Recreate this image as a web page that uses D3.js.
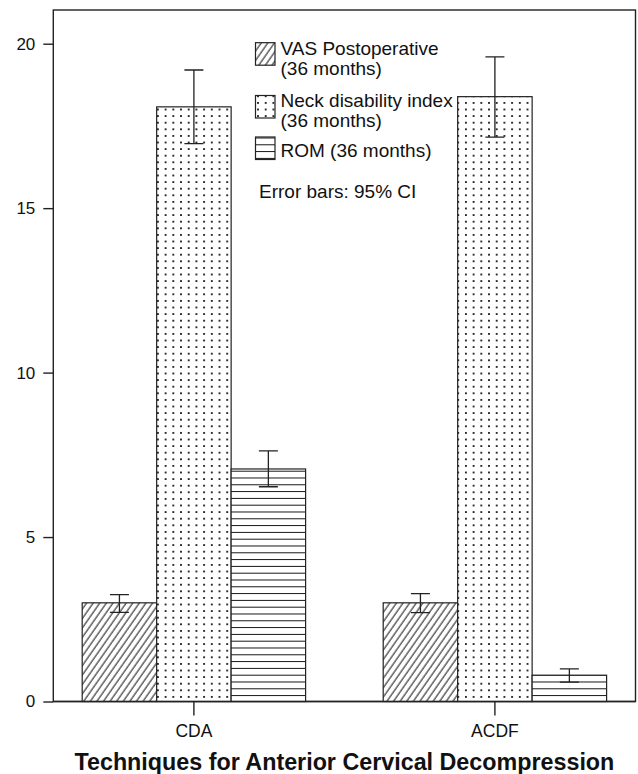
<!DOCTYPE html>
<head>
    <meta charset="UTF-8" />
    <style>
        body {
            margin: 0;
            padding: 0;
            background: #fff;
            font-family: "Liberation Sans", Arial, sans-serif;
        }

        .bar {
            stroke: #222;
            stroke-width: 1.2px;
        }

        .err {
            stroke: #222;
            stroke-width: 1.3px;
            fill: none;
        }
    </style>
    <title>Techniques</title>
</head>

<svg width="638" height="774"></svg>
<script src="https://d3js.org/d3.v7.min.js"></script>

<script>
    // values (95% CI)
    const groups = ["CDA", "ACDF"]
    const series = ["vas", "ndi", "rom"]
    const seriesLabels = [
        ["VAS Postoperative", "(36 months)"],
        ["Neck disability index", "(36 months)"],
        ["ROM (36 months)"]
    ]
    const vasMean = [3.0, 3.0]
    const vasLow = [2.71, 2.70]
    const vasHigh = [3.25, 3.28]
    const ndiMean = [18.08, 18.39]
    const ndiLow = [16.96, 17.16]
    const ndiHigh = [19.20, 19.60]
    const romMean = [7.07, 0.80]
    const romLow = [6.53, 0.59]
    const romHigh = [7.62, 0.99]
    const yTicks = [0, 5, 10, 15, 20]

    const means = { vas: vasMean, ndi: ndiMean, rom: romMean }
    const lows = { vas: vasLow, ndi: ndiLow, rom: romLow }
    const highs = { vas: vasHigh, ndi: ndiHigh, rom: romHigh }

    var rows = []
    groups.forEach((g, i) => {
        series.forEach(s => {
            rows.push({ group: g, key: s, mean: means[s][i], low: lows[s][i], high: highs[s][i] })
        })
    })

    var svg = d3.select("svg")
    var plotLeft = 53.3, plotRight = 635.5, plotTop = 10

    var y = d3.scaleLinear().domain([0, 20]).range([701.5, 43.7])
    var x0 = d3.scaleBand().domain(groups).range([plotLeft, plotRight])
        .paddingInner(0.2578).paddingOuter(0.096)
    var x1 = d3.scaleBand().domain(series).range([0, x0.bandwidth()])

    // fill patterns
    var defs = svg.append("defs")

    var hatch = defs.append("pattern")
        .attr("id", "pat-vas")
        .attr("patternUnits", "userSpaceOnUse")
        .attr("width", 5.4).attr("height", 10)
        .attr("patternTransform", "rotate(35)")
    hatch.append("rect").attr("width", 5.4).attr("height", 10).attr("fill", "#fff")
    hatch.append("line").attr("x1", 1).attr("x2", 1).attr("y1", 0).attr("y2", 10)
        .attr("stroke", "#111").attr("stroke-width", 1)

    var dots = defs.append("pattern")
        .attr("id", "pat-ndi")
        .attr("patternUnits", "userSpaceOnUse")
        .attr("x", 2).attr("y", 2)
        .attr("width", 7.7).attr("height", 6.6)
    dots.append("rect").attr("width", 7.7).attr("height", 6.6).attr("fill", "#fff")
    dots.append("rect").attr("x", 1).attr("y", 1).attr("width", 1.8).attr("height", 1.8).attr("fill", "#111")

    var lines = defs.append("pattern")
        .attr("id", "pat-rom")
        .attr("patternUnits", "userSpaceOnUse")
        .attr("y", 1.5)
        .attr("width", 10).attr("height", 6.8)
    lines.append("rect").attr("width", 10).attr("height", 6.8).attr("fill", "#fff")
    lines.append("line").attr("x1", 0).attr("x2", 10).attr("y1", 0.5).attr("y2", 0.5)
        .attr("stroke", "#111").attr("stroke-width", 1)

    // frame
    svg.append("rect")
        .attr("x", plotLeft).attr("y", plotTop)
        .attr("width", plotRight - plotLeft).attr("height", y(0) - plotTop)
        .attr("fill", "none").attr("stroke", "#222").attr("stroke-width", 1.4)

    // bars
    svg.selectAll(".bar")
        .data(rows)
        .enter().append("rect")
        .attr("class", "bar")
        .attr("x", d => x0(d.group) + x1(d.key))
        .attr("y", d => y(d.mean))
        .attr("width", x1.bandwidth())
        .attr("height", d => y(0) - y(d.mean))
        .attr("fill", d => "url(#pat-" + d.key + ")")

    // error bars
    var cap = 9.5
    svg.selectAll(".err")
        .data(rows)
        .enter().append("path")
        .attr("class", "err")
        .attr("d", d => {
            const cx = x0(d.group) + x1(d.key) + x1.bandwidth() / 2
            return `M ${cx - cap} ${y(d.high)} H ${cx + cap} M ${cx} ${y(d.high)} V ${y(d.low)}
                    M ${cx - cap} ${y(d.low)} H ${cx + cap}`
        })

    // baseline drawn again on top
    svg.append("line")
        .attr("x1", plotLeft).attr("x2", plotRight)
        .attr("y1", y(0)).attr("y2", y(0))
        .attr("stroke", "#222").attr("stroke-width", 1.4)

    // y axis
    var yAxis = svg.append("g")
        .attr("transform", `translate(${plotLeft},0)`)
        .call(d3.axisLeft(y).tickValues(yTicks).tickSize(10).tickPadding(8))
    yAxis.select(".domain").remove()
    yAxis.selectAll("line").attr("stroke", "#222").attr("stroke-width", 1.4)
    yAxis.selectAll("text").attr("font-size", 17).attr("fill", "#111")
        .attr("font-family", "Liberation Sans, Arial, sans-serif")

    // x axis
    var xAxis = svg.append("g")
        .attr("transform", `translate(0,${y(0)})`)
        .call(d3.axisBottom(x0).tickSize(14).tickPadding(9))
    xAxis.select(".domain").remove()
    xAxis.selectAll("line").attr("stroke", "#222").attr("stroke-width", 1.4)
    xAxis.selectAll("text").attr("font-size", 17.5).attr("fill", "#111")
        .attr("font-family", "Liberation Sans, Arial, sans-serif")

    svg.append("text")
        .attr("x", (plotLeft + plotRight) / 2)
        .attr("y", 770)
        .attr("text-anchor", "middle")
        .attr("font-size", 23.3)
        .attr("font-weight", "bold")
        .attr("fill", "#111")
        .text("Techniques for Anterior Cervical Decompression")

    // legend
    var swatchTops = [42.7, 95.5, 137]
    var textBase = [[55, 75], [107, 127], [157]]
    var legend = svg.append("g")
    series.forEach((s, i) => {
        legend.append("rect")
            .attr("x", 255.5).attr("y", swatchTops[i])
            .attr("width", 19.5).attr("height", 22.5)
            .attr("fill", "url(#pat-" + s + ")")
            .attr("stroke", "#222").attr("stroke-width", 1.2)
        seriesLabels[i].forEach((t, j) => {
            legend.append("text")
                .attr("x", 280.5).attr("y", textBase[i][j])
                .attr("font-size", 19)
                .attr("fill", "#111")
                .text(t)
        })
    })
    legend.append("text")
        .attr("x", 259).attr("y", 198)
        .attr("font-size", 19)
        .attr("fill", "#111")
        .text("Error bars: 95% CI")
</script>
